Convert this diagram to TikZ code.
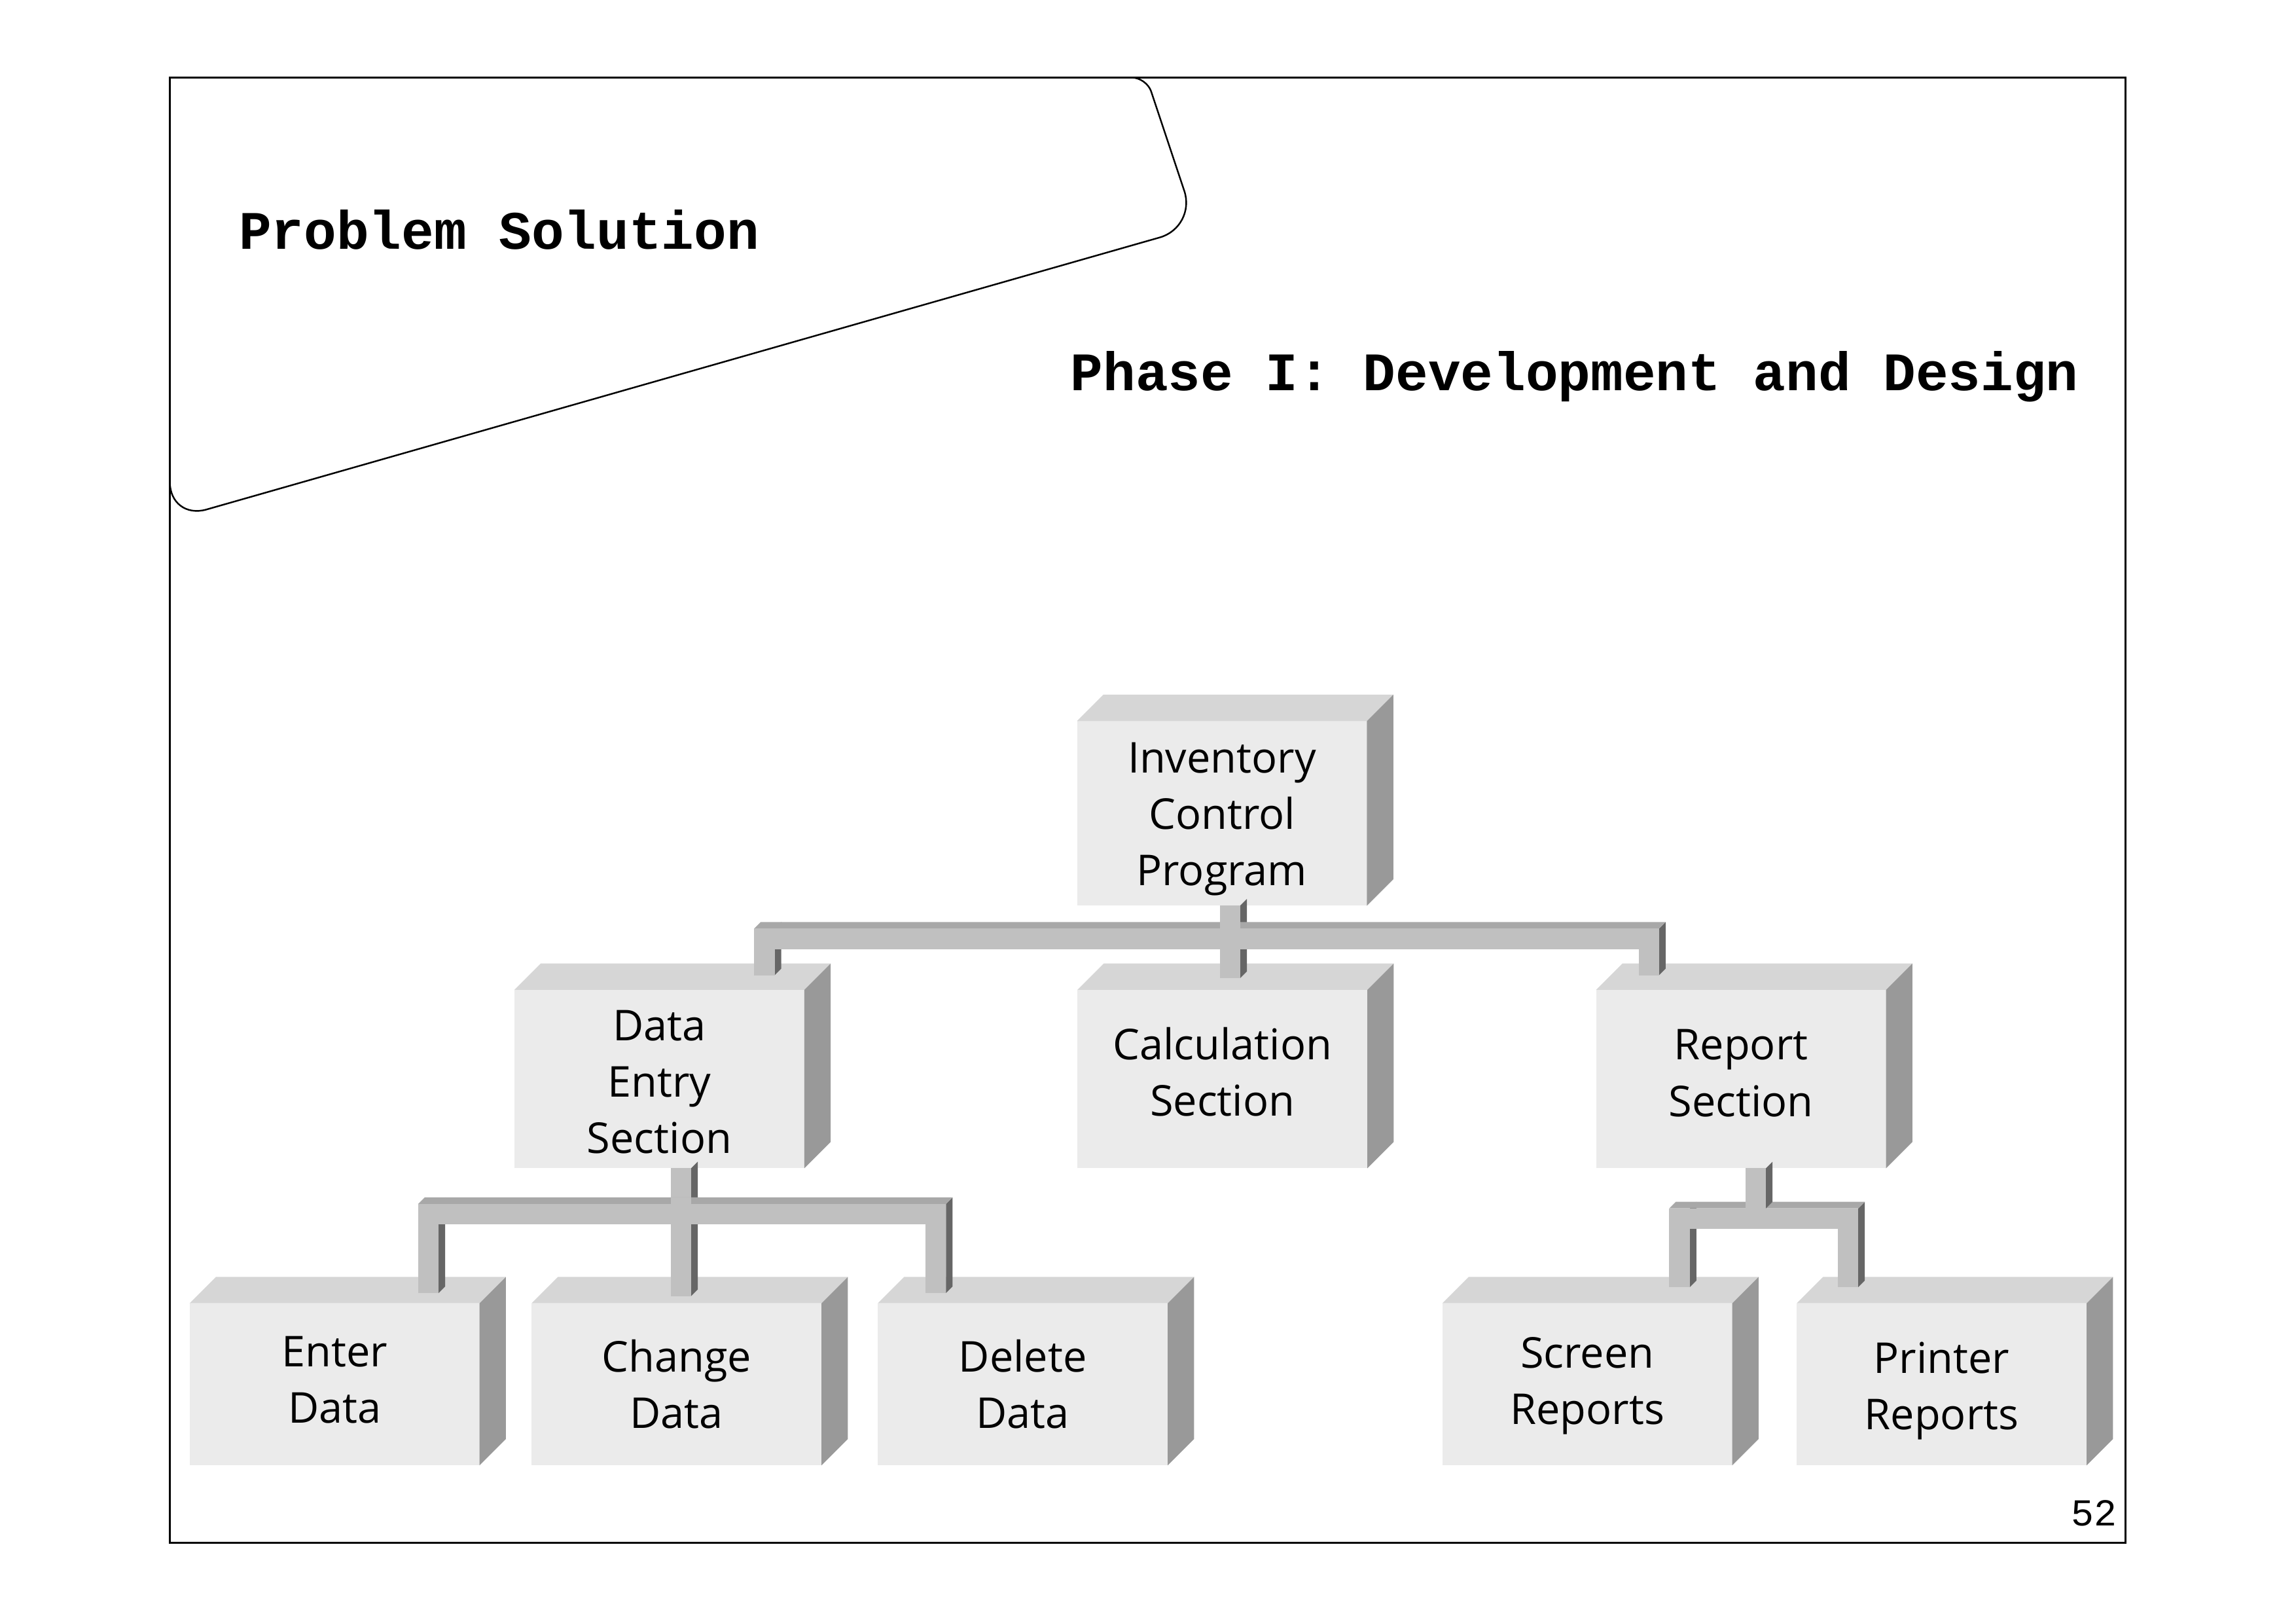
\documentclass[tikz,border=0pt]{standalone}
\usepackage{fontspec}
\setmainfont{Open Sans}
\newfontfamily\typefont{Liberation Mono}
\usetikzlibrary{calc}

\definecolor{frontgray}{HTML}{EBEBEB}
\definecolor{topgray}{HTML}{D6D6D6}
\definecolor{sidegray}{HTML}{999999}
\definecolor{pipegray}{HTML}{C0C0C0}
\definecolor{pipetopgray}{HTML}{A8A8A8}
\definecolor{pipedark}{HTML}{666666}

\tikzset{
  boxfront/.style={fill=frontgray, minimum width=198pt, inner sep=0pt, outer sep=0pt},
  boxlabel/.style={align=center, inner sep=0pt, font=\fontsize{29}{38.5}\selectfont},
  titletext/.style={font=\fontsize{37}{44}\selectfont\typefont\bfseries, inner sep=0pt, anchor=base west},
  pagenum/.style={font=\fontsize{26}{30}\selectfont\typefont, inner sep=0pt, anchor=base east},
  tabline/.style={line width=1.1pt},
  frameline/.style={line width=1.3pt}
}

% a grey box with top and side face: [text shift], name, x, y, height, text
\newcommand\cubebox[6][0]{%
  \node[boxfront, minimum height=#5pt] (#2) at (#3,#4) {};
  \fill[topgray] (#2.north west) -- ++(18,18) -- ($(#2.north east)+(18,18)$) -- (#2.north east) -- cycle;
  \fill[sidegray] (#2.north east) -- ++(18,18) -- ($(#2.south east)+(18,18)$) -- (#2.south east) -- cycle;
  \node[boxlabel] (#2-text) at ($(#2)+(0,#1)$) {#6};
}
% vertical pipe, #1 top and #2 bottom of its centre line
\newcommand\vpipe[2]{%
  \path #1 coordinate (vt) #2 coordinate (vb);
  \fill[pipedark] ([xshift=7pt]vt) -- ([shift={(11.5pt,4.5pt)}]vt) -- ([shift={(11.5pt,4.5pt)}]vb) -- ([xshift=7pt]vb) -- cycle;
  \fill[pipegray] ([xshift=-7pt]vt) rectangle ([xshift=7pt]vb);
}
% horizontal pipe, #1 left and #2 right end of its centre line
\newcommand\hpipe[2]{%
  \path #1 coordinate (ht) #2 coordinate (hb);
  \fill[pipetopgray] ([yshift=7pt]ht) -- ([shift={(4.5pt,11.5pt)}]ht) -- ([shift={(4.5pt,11.5pt)}]hb) -- ([yshift=7pt]hb) -- cycle;
  \fill[pipegray] ([yshift=-7pt]ht) rectangle ([yshift=7pt]hb);
}

\begin{document}
\begin{tikzpicture}[x=1pt, y=1pt]
  \fill[white] (0,0) rectangle (1568,1108);

  % Slide frame and title tab
  \draw[frameline] (116,54.5) rectangle (1451.5,1055);
  \draw[tabline] (116,1055) [rounded corners=10pt] -- (783,1055) [rounded corners=26pt] -- (817,953)
    -- (116,753) [sharp corners] -- (116,1055);
  \node[titletext] (title) at (163,938) {Problem Solution};
  \node[titletext] (phase) at (731,841.5) {Phase I: Development and Design};
  \node[pagenum] (page) at (1446,66.5) {52};

  % The boxes
  \cubebox[-4]{prog}{834.5}{552.7}{126}{Inventory\\Control\\Program}
  \cubebox[-2]{entry}{450.3}{371.3}{121.8}{Data\\Entry\\Section}
  \cubebox[5]{calcsec}{834.8}{371.3}{121.8}{Calculation\\Section}
  \cubebox[4]{report}{1189}{371.3}{121.8}{Report\\Section}
  \cubebox[3]{enter}{228.5}{162.9}{110.6}{Enter\\Data}
  \cubebox{change}{462}{162.9}{110.6}{Change\\Data}
  \cubebox{delete}{698.5}{162.9}{110.6}{Delete\\Data}
  \cubebox[-1]{screen}{1084}{162.9}{110.6}{Screen\\Reports}
  \cubebox[-4.5]{printer}{1326}{162.9}{110.6}{Printer\\Reports}

  % Pipes below the program box
  \coordinate (b1l) at (515,467);
  \coordinate (b1r) at (1133,467);
  \coordinate (b1m) at (840,467);
  \vpipe{($(b1l)+(7,7)$)}{($(entry.north -| b1l)+(7,10)$)}
  \vpipe{($(b1r)+(-7,7)$)}{($(report.north -| b1r)+(-7,10)$)}
  \vpipe{(prog.south -| b1m)}{($(calcsec.north -| b1m)+(0,8)$)}
  \hpipe{(b1l)}{(b1r)}
  \fill[pipegray] ($(b1m)+(-7,-7)$) rectangle ($(b1m)+(7,11.5)$);

  % Pipes below the data entry box
  \coordinate (b2l) at (285.5,279);
  \coordinate (b2r) at (646,279);
  \coordinate (b2m) at (465,279);
  \vpipe{($(b2l)+(7,7)$)}{($(enter.north -| b2l)+(7,7)$)}
  \vpipe{($(b2r)+(-7,7)$)}{($(delete.north -| b2r)+(-7,7)$)}
  \vpipe{(entry.south -| b2m)}{($(change.north -| b2m)+(0,5)$)}
  \hpipe{(b2l)}{(b2r)}
  \fill[pipegray] ($(b2m)+(-7,-7)$) rectangle ($(b2m)+(7,11.5)$);

  % Pipes below the report box
  \coordinate (b3l) at (1140,276);
  \coordinate (b3r) at (1269,276);
  \coordinate (b3m) at (1199,276);
  \vpipe{($(b3l)+(7,7)$)}{($(screen.north -| b3l)+(7,11)$)}
  \vpipe{($(b3r)+(-7,7)$)}{($(printer.north -| b3r)+(-7,11)$)}
  \hpipe{(b3l)}{(b3r)}
  \vpipe{(report.south -| b3m)}{($(b3m)+(0,7)$)}
\end{tikzpicture}
\end{document}
